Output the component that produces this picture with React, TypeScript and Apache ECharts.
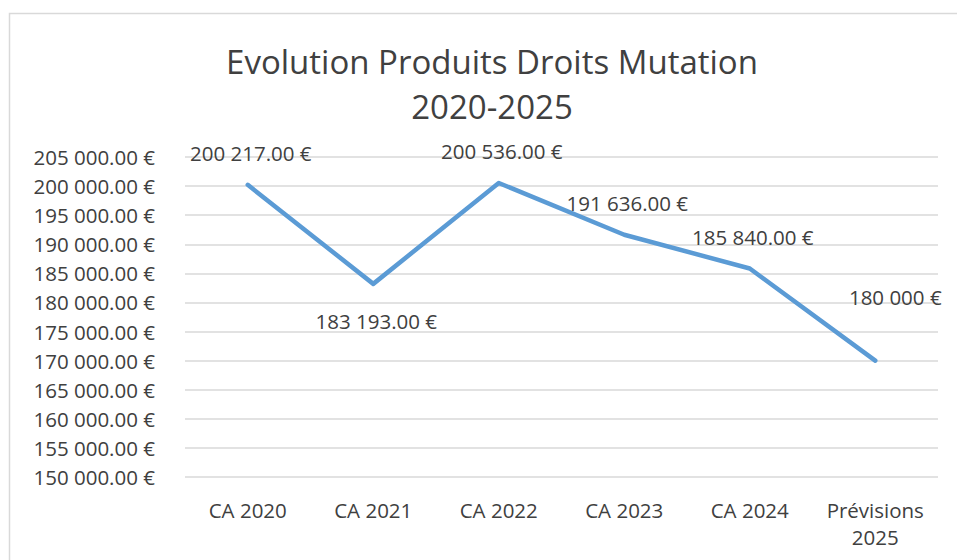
import React, { useEffect, useRef } from "react";
import * as echarts from "echarts";

const categories = ["CA 2020", "CA 2021", "CA 2022", "CA 2023", "CA 2024", "Prévisions\n2025"];
const values = [200217, 183193, 200536, 191636, 185840, 170000];
const pointLabels = ["200 217.00 €", "183 193.00 €", "200 536.00 €", "191 636.00 €", "185 840.00 €", "180 000 €"];
const yMin = 150000;
const yMax = 205000;
const yStep = 5000;
const titleText = "Evolution Produits Droits Mutation\n2020-2025";

const FONT = "Open Sans";
const TXT = "#404040";
const FS = 20.5;

function fmtEuro(v: number): string {
  const s = Math.round(v).toString().replace(/\B(?=(\d{3})+(?!\d))/g, " ");
  return s + ".00 €";
}

export default function App() {
  const ref = useRef<HTMLDivElement>(null);
  useEffect(() => {
    if (!ref.current) return;
    const chart = echarts.init(ref.current, undefined, { renderer: "svg" });
    const data = values.map((v, i) => {
      const item: any = { value: v };
      if (i === 1) {
        item.label = { position: "bottom", distance: 27 };
      } else if (i === values.length - 1) {
        item.label = { position: "top", distance: 53, offset: [20, 0] };
      }
      return item;
    });
    chart.setOption({
      animation: false,
      backgroundColor: "#ffffff",
      title: {
        text: titleText,
        left: 487,
        textAlign: "center",
        top: 34,
        textStyle: {
          fontFamily: FONT,
          fontSize: 33,
          fontWeight: "normal",
          color: TXT,
          lineHeight: 45,
        },
      },
      graphic: [
        {
          type: "rect",
          shape: { x: 9.5, y: 13.5, width: 1000, height: 600 },
          style: { fill: "none", stroke: "#d9d9d9", lineWidth: 1.5 },
          silent: true,
        },
      ],
      grid: { left: 185, right: 19, top: 157, bottom: 83, containLabel: false },
      xAxis: {
        type: "category",
        data: categories,
        boundaryGap: true,
        axisLine: { show: false },
        axisTick: { show: false },
        axisLabel: {
          interval: 0,
          fontFamily: FONT,
          fontSize: FS,
          color: TXT,
          margin: 19,
          lineHeight: 27,
        },
      },
      yAxis: {
        type: "value",
        min: yMin,
        max: yMax,
        interval: yStep,
        axisLine: { show: false },
        axisTick: { show: false },
        splitLine: { lineStyle: { color: "#d9d9d9", width: 1.5 } },
        axisLabel: {
          fontFamily: FONT,
          fontSize: FS,
          color: TXT,
          margin: 30,
          formatter: (v: number) => fmtEuro(v),
        },
      },
      series: [
        {
          type: "line",
          data,
          showSymbol: true,
          symbol: "circle",
          symbolSize: 0,
          lineStyle: { color: "#5b9bd5", width: 4.5, cap: "round", join: "round" },
          itemStyle: { color: "#5b9bd5" },
          label: {
            show: true,
            position: "top",
            distance: 21,
            offset: [3, 0],
            fontFamily: FONT,
            fontSize: FS,
            color: TXT,
            formatter: (p: any) => pointLabels[p.dataIndex],
          },
        },
      ],
    });
    return () => chart.dispose();
  }, []);
  return (
    <div
      ref={ref}
      style={{ position: "absolute", left: 0, top: 0, width: 957, height: 560 }}
    />
  );
}
